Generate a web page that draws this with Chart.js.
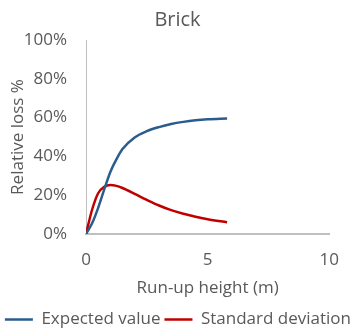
<!DOCTYPE html>
<html>
<head>
<meta charset="utf-8">
<script src="https://cdn.jsdelivr.net/npm/chart.js@4.4.0/dist/chart.umd.min.js"></script>
<style>
  body { margin: 0; background: #fff; }
</style>
</head>
<body>
<canvas id="myChart" width="355" height="329"></canvas>
<script>
    // run-up height (m)
    const heights = [0, 0.25, 0.5, 0.75, 1, 1.25, 1.5, 2, 2.5, 3, 3.5, 4, 4.5, 5, 5.8];
    // relative loss %
    const expectedValues = [0, 5.5, 13.5, 23, 32, 38.5, 43.8, 49.8, 53, 55.1, 56.7, 57.8, 58.6, 59.1, 59.5];
    const stdValues = [0, 12.5, 21, 24.3, 25.2, 24.8, 23.7, 20.7, 17.6, 14.7, 12.3, 10.4, 8.9, 7.6, 6.1];
    const xTicks = [0, 5, 10];
    const yTicks = [0, 20, 40, 60, 80, 100];

    const grey = '#595959';
    const fontFamily = 'Open Sans';

    function toPoints(values) {
      return values.map((v, i) => ({ x: heights[i], y: v }));
    }

    const ctx = document.getElementById('myChart');
    new Chart(ctx, {
      type: 'line',
      data: {
        datasets: [
          {
            label: 'Expected value',
            data: toPoints(expectedValues),
            borderColor: '#2A5D8E',
            backgroundColor: '#2A5D8E',
            borderWidth: 2.5,
            pointRadius: 0,
            cubicInterpolationMode: 'monotone',
            fill: false
          },
          {
            label: 'Standard deviation',
            data: toPoints(stdValues),
            borderColor: '#C00000',
            backgroundColor: '#C00000',
            borderWidth: 2.5,
            pointRadius: 0,
            cubicInterpolationMode: 'monotone',
            fill: false
          }
        ]
      },
      options: {
        responsive: false,
        animation: false,
        layout: {
          padding: { left: 0, right: 0, top: 0, bottom: -9 }
        },
        scales: {
          x: {
            type: 'linear',
            min: 0,
            max: 10,
            afterBuildTicks: axis => { axis.ticks = xTicks.map(v => ({ value: v })); },
            grid: { display: false, drawTicks: false },
            border: { display: true, color: '#BFBFBF', width: 2 },
            ticks: {
              color: grey,
              font: { family: fontFamily, size: 17 },
              padding: 16,
              maxRotation: 0
            },
            title: {
              display: true,
              text: 'Run-up height (m)',
              color: grey,
              font: { family: fontFamily, size: 17 },
              padding: { top: -8.6, bottom: 8.8 }
            }
          },
          y: {
            min: 0,
            max: 100,
            afterBuildTicks: axis => { axis.ticks = yTicks.map(v => ({ value: v })); },
            afterFit: axis => { axis.width = 86; },
            grid: { display: false, drawTicks: false },
            border: { display: true, color: '#BFBFBF', width: 1 },
            ticks: {
              color: grey,
              font: { family: fontFamily, size: 17 },
              padding: 19,
              callback: v => v + '%'
            },
            title: {
              display: true,
              text: 'Relative loss %',
              color: grey,
              font: { family: fontFamily, size: 17 },
              padding: { top: 8, bottom: 0 }
            }
          },
          // empty right axis, only keeps the plot away from the right edge
          yRight: {
            position: 'right',
            display: true,
            afterFit: axis => { axis.width = 19; },
            grid: { display: false, drawTicks: false },
            border: { display: false },
            ticks: { display: false }
          }
        },
        plugins: {
          title: {
            display: true,
            text: 'Brick',
            color: grey,
            font: { family: fontFamily, size: 20, weight: 'normal' },
            padding: { top: 8, bottom: 8 }
          },
          legend: {
            position: 'bottom',
            align: 'end',
            labels: {
              color: grey,
              font: { family: fontFamily, size: 17 },
              usePointStyle: true,
              pointStyle: 'line',
              pointStyleWidth: 28,
              padding: 4
            }
          },
          tooltip: { enabled: false }
        }
      }
    });
</script>
</body>
</html>
